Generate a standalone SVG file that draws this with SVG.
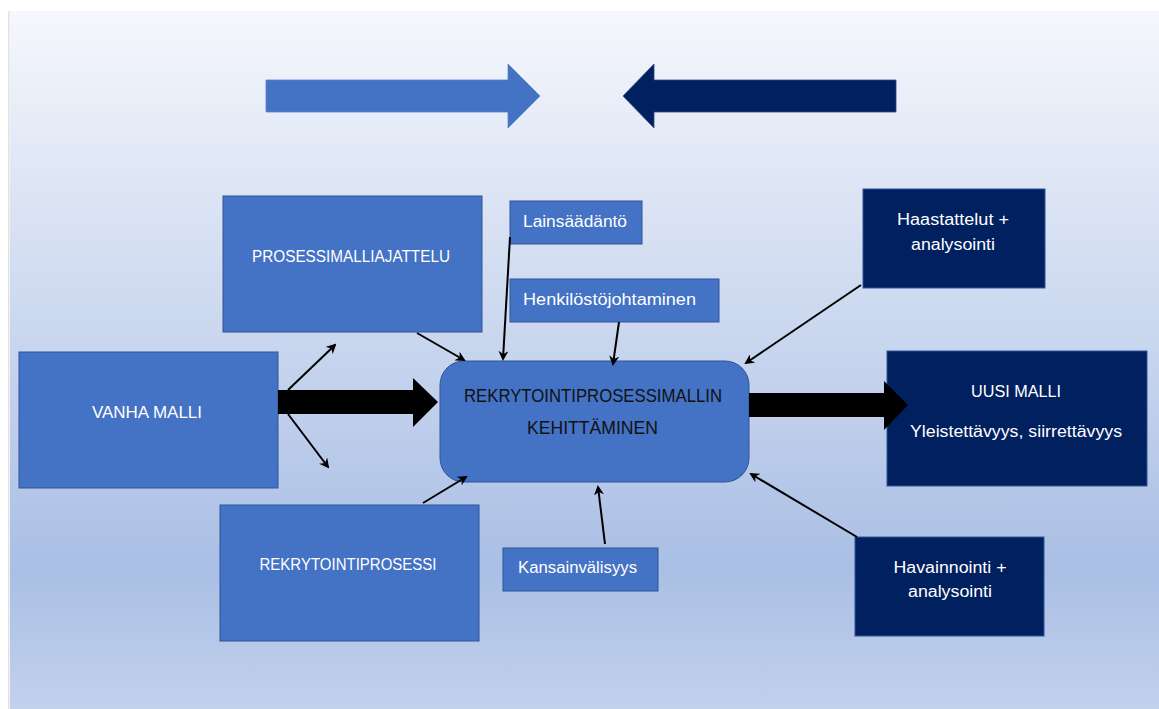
<svg xmlns="http://www.w3.org/2000/svg" width="1159" height="709" viewBox="0 0 1159 709">
<style>
.lt{fill:#4472c4;stroke:#2f5597;stroke-width:1}
.dk{fill:#002060;stroke:#2f5597;stroke-width:1}
.t{font-family:"Liberation Sans",Arial,sans-serif;font-size:16px;fill:#ffffff;text-anchor:middle}
.tb{font-family:"Liberation Sans",Arial,sans-serif;font-size:18px;fill:#111111;text-anchor:middle}
.c{stroke:#000;stroke-width:2;fill:none;marker-end:url(#ah)}
</style>
<defs>
<linearGradient id="bg" x1="0" y1="0" x2="0" y2="1">
<stop offset="0" stop-color="#f5f7fc"/>
<stop offset="0.8" stop-color="#aabfe5"/>
<stop offset="1" stop-color="#c2d1ec"/>
</linearGradient>
<marker id="ah" markerWidth="10" markerHeight="10" refX="8" refY="5" orient="auto" markerUnits="userSpaceOnUse">
<path d="M0,0 L10,5 L0,10 L3,5 Z" fill="#000"/>
</marker>
</defs>
<rect x="0" y="0" width="1159" height="709" fill="#ffffff"/>
<rect x="8" y="11" width="1.5" height="698" fill="#e2e2e2"/>
<rect x="10" y="11" width="1149" height="698" fill="url(#bg)"/>

<g id="top-arrow-right">
<polygon points="266,80 508,80 508,64 540,96 508,128 508,112 266,112" fill="#4472c4" stroke="#5b82c9" stroke-width="0.8"/>
</g>
<g id="top-arrow-left">
<polygon points="896,80 654,80 654,64 623,96 654,128 654,112 896,112" fill="#002060" stroke="#2f4a80" stroke-width="0.8"/>
</g>

<g id="prosessimalliajattelu">
<rect class="lt" x="223" y="196" width="259" height="136"/>
<text class="t" x="351" y="262" textLength="198" lengthAdjust="spacingAndGlyphs">PROSESSIMALLIAJATTELU</text>
</g>
<g id="lainsaadanto">
<rect class="lt" x="510" y="201" width="132" height="43"/>
<text class="t" x="575" y="227" textLength="104" lengthAdjust="spacingAndGlyphs">Lainsäädäntö</text>
</g>
<g id="henkilostojohtaminen">
<rect class="lt" x="510" y="279" width="209" height="43"/>
<text class="t" x="609.5" y="305" textLength="173" lengthAdjust="spacingAndGlyphs">Henkilöstöjohtaminen</text>
</g>
<g id="vanha-malli">
<rect class="lt" x="19" y="352" width="259" height="136"/>
<text class="t" x="147" y="418" textLength="110" lengthAdjust="spacingAndGlyphs">VANHA MALLI</text>
</g>
<g id="rekrytointiprosessi">
<rect class="lt" x="220" y="505" width="259" height="136"/>
<text class="t" x="348" y="570" textLength="177" lengthAdjust="spacingAndGlyphs">REKRYTOINTIPROSESSI</text>
</g>
<g id="kehittaminen">
<rect class="lt" x="440" y="361" width="309" height="121" rx="24" ry="24"/>
<text class="tb" x="593" y="402" textLength="258" lengthAdjust="spacingAndGlyphs">REKRYTOINTIPROSESSIMALLIN</text>
<text class="tb" x="592.5" y="434" textLength="131" lengthAdjust="spacingAndGlyphs">KEHITTÄMINEN</text>
</g>
<g id="kansainvalisyys">
<rect class="lt" x="503" y="548" width="155" height="43"/>
<text class="t" x="577.5" y="573" textLength="119" lengthAdjust="spacingAndGlyphs">Kansainvälisyys</text>
</g>
<g id="haastattelut">
<rect class="dk" x="863" y="189" width="182" height="99"/>
<text class="t" x="953" y="225" textLength="112" lengthAdjust="spacingAndGlyphs">Haastattelut +</text>
<text class="t" x="953" y="250" textLength="84" lengthAdjust="spacingAndGlyphs">analysointi</text>
</g>
<g id="uusi-malli">
<rect class="dk" x="887" y="351" width="260" height="135"/>
<text class="t" x="1016" y="397" textLength="90" lengthAdjust="spacingAndGlyphs">UUSI MALLI</text>
<text class="t" x="1016" y="437" textLength="212" lengthAdjust="spacingAndGlyphs">Yleistettävyys, siirrettävyys</text>
</g>
<g id="havainnointi">
<rect class="dk" x="855" y="537" width="189" height="99"/>
<text class="t" x="950" y="573" textLength="113" lengthAdjust="spacingAndGlyphs">Havainnointi +</text>
<text class="t" x="950" y="597" textLength="84" lengthAdjust="spacingAndGlyphs">analysointi</text>
</g>

<g id="connectors">
<polygon points="278,390 413,390 413,378 438,402 413,427 413,414 278,414" fill="#000"/>
<polygon points="749,393 884,393 884,381 908,405 884,430 884,417 749,417" fill="#000"/>
<line class="c" x1="288" y1="390" x2="335" y2="345"/>
<line class="c" x1="288" y1="414" x2="328" y2="467"/>
<line class="c" x1="417" y1="333" x2="464" y2="360"/>
<line class="c" x1="510" y1="237" x2="503" y2="359"/>
<line class="c" x1="619" y1="322" x2="613" y2="364"/>
<line class="c" x1="861" y1="285" x2="746" y2="363"/>
<line class="c" x1="423" y1="503" x2="466" y2="477"/>
<line class="c" x1="605" y1="544" x2="598" y2="487"/>
<line class="c" x1="857" y1="537" x2="751" y2="474"/>
</g>
</svg>
